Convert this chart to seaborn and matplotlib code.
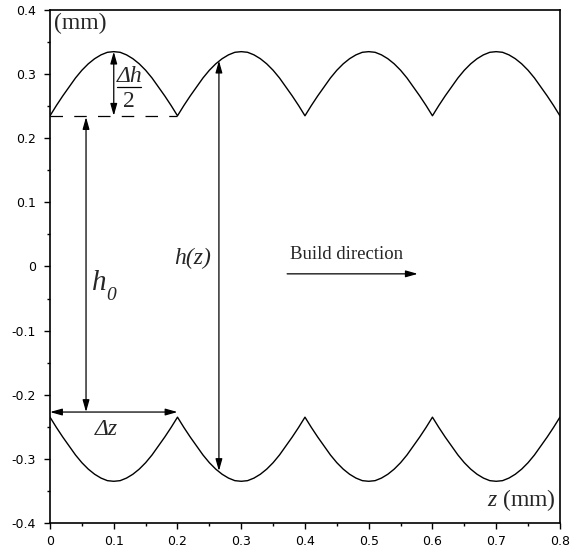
"""
Bead height profile h(z) of a deposited wall, with dimension arrows
"""

import matplotlib.pyplot as plt
import pandas as pd
import seaborn as sns


# one bead (mm)
bead_starts = [0.0, 0.2, 0.4, 0.6]
bead_offsets = [0.0, 0.01, 0.02, 0.03, 0.04, 0.05, 0.06, 0.07, 0.08, 0.09, 0.1,
                0.11, 0.12, 0.13, 0.14, 0.15, 0.16, 0.17, 0.18, 0.19, 0.2]
bead_heights = [0.235, 0.251, 0.266, 0.280, 0.294, 0.306, 0.316, 0.324, 0.330, 0.334, 0.335,
                0.334, 0.330, 0.324, 0.316, 0.306, 0.294, 0.280, 0.266, 0.251, 0.235]

h0_half = 0.235
dh_peak = 0.335
delta_z = 0.2
hz_pos = 0.265
hz_top = 0.321
hz_bottom = -0.319

x_ticks = [0, 0.1, 0.2, 0.3, 0.4, 0.5, 0.6, 0.7, 0.8]
x_tick_labels = ["0", "0.1", "0.2", "0.3", "0.4", "0.5", "0.6", "0.7", "0.8"]
y_ticks = [-0.4, -0.3, -0.2, -0.1, 0, 0.1, 0.2, 0.3, 0.4]
y_tick_labels = ["-0.4", "-0.3", "-0.2", "-0.1", "0", "0.1", "0.2", "0.3", "0.4"]


def build_profile() -> pd.DataFrame:
    rows = []
    for start in bead_starts:
        for off, h in zip(bead_offsets, bead_heights):
            rows.append({"z": round(start + off, 4), "h": h, "side": "top"})
            rows.append({"z": round(start + off, 4), "h": -h, "side": "bottom"})
    df = pd.DataFrame(rows).drop_duplicates(subset=["z", "side"])
    return df


def double_arrow(ax, p1, p2):
    ax.annotate("", xy=p2, xytext=p1,
                arrowprops=dict(arrowstyle="<|-|>,head_length=0.6,head_width=0.17",
                                color="black", lw=0.9, shrinkA=0, shrinkB=0))


def main():
    sns.set_theme(style="ticks")
    plt.rcParams["font.family"] = ["DejaVu Sans"]
    plt.rcParams["mathtext.fontset"] = "custom"
    plt.rcParams["mathtext.it"] = "Liberation Serif:italic"
    plt.rcParams["mathtext.rm"] = "Liberation Serif"

    df = build_profile()

    fig = plt.figure(figsize=(5.71, 5.54), dpi=100)
    ax = fig.add_axes([0.0876, 0.056, 0.893, 0.926])

    sns.lineplot(data=df, x="z", y="h", units="side", estimator=None,
                 color="black", lw=1.0, ax=ax)

    # dashed baseline of the first bead
    ax.plot([0, delta_z], [h0_half, h0_half], color="black", lw=0.9,
            dashes=(10, 9))

    double_arrow(ax, (0.1, h0_half), (0.1, dh_peak))
    double_arrow(ax, (0.0565, h0_half - 0.002), (0.0565, -0.227))
    double_arrow(ax, (0.0, -0.227), (delta_z, -0.227))
    double_arrow(ax, (hz_pos, hz_top), (hz_pos, hz_bottom))
    ax.annotate("", xy=(0.577, -0.0115), xytext=(0.372, -0.0115),
                arrowprops=dict(arrowstyle="-|>,head_length=0.6,head_width=0.17",
                                color="black", lw=0.9, shrinkA=0, shrinkB=0))

    serif = "Liberation Serif"
    ax.text(0.125, 0.297, "Δh", family=serif, style="italic", fontsize=17,
            ha="center", va="center")
    ax.plot([0.105, 0.143], [0.2795, 0.2795], color="black", lw=0.9)
    ax.text(0.124, 0.257, "2", family=serif, fontsize=17,
            ha="center", va="center")
    ax.text(0.066, -0.036, "h", family=serif, style="italic", fontsize=21,
            ha="left", va="baseline")
    ax.text(0.0875, -0.053, "0", family=serif, style="italic", fontsize=14,
            ha="left", va="baseline")
    ax.text(0.088, -0.254, "Δz", family=serif, style="italic", fontsize=17,
            ha="center", va="center")
    ax.text(0.252, 0.012, "h(z)", family=serif, style="italic", fontsize=17,
            ha="right", va="center")
    ax.text(0.376, 0.018, "Build direction", family=serif, fontsize=13.5,
            ha="left", va="center")
    ax.text(0.006, 0.395, "(mm)", family=serif, fontsize=17,
            ha="left", va="top")
    ax.text(0.794, -0.364, r"$z$ (mm)", family=serif, fontsize=17,
            ha="right", va="center")

    ax.set_xlim(0, 0.8)
    ax.set_ylim(-0.4, 0.4)
    ax.set_xticks(x_ticks)
    ax.set_xticklabels(x_tick_labels)
    ax.set_yticks(y_ticks)
    ax.set_yticklabels(y_tick_labels)
    ax.set_xticks([0.05, 0.15, 0.25, 0.35, 0.45, 0.55, 0.65, 0.75], minor=True)
    ax.set_yticks([-0.35, -0.25, -0.15, -0.05, 0.05, 0.15, 0.25, 0.35], minor=True)
    ax.tick_params(which="major", direction="out", length=4.5, width=1,
                   labelsize=9, pad=4, color="black", labelcolor="black")
    ax.tick_params(axis="y", which="major", pad=5.5)
    ax.tick_params(which="minor", direction="out", length=2.5, width=1,
                   color="black")
    ax.set_xlabel("")
    ax.set_ylabel("")
    for side in ["left", "right", "top", "bottom"]:
        ax.spines[side].set_visible(True)
        ax.spines[side].set_color("black")
        ax.spines[side].set_linewidth(1.2)

    plt.savefig("out.png", dpi=100)


if __name__ == "__main__":
    main()
